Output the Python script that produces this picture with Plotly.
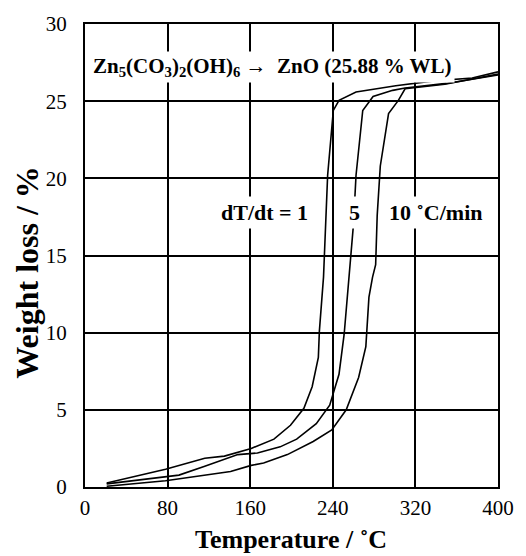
import plotly.graph_objects as go

# Thermogravimetric curves of basic zinc carbonate at three heating rates
temp_1 = [21, 55, 78, 116, 135, 161, 183, 199, 212, 220, 226, 227, 231, 235, 240.5, 246, 262.5, 301, 336, 375, 400]
wl_1 = [0.26, 0.77, 1.15, 1.86, 2.0, 2.5, 3.1, 4.0, 5.1, 6.5, 8.4, 10.1, 13.6, 20.2, 24.4, 25.05, 25.6, 26.0, 26.3, 26.5, 26.9]

temp_5 = [21, 91, 116, 148, 167, 189, 205, 224, 237, 246, 251, 256, 260, 262.5, 269, 279, 298, 310, 330, 350, 400]
wl_5 = [0.2, 0.77, 1.35, 2.1, 2.2, 2.6, 3.1, 4.1, 5.3, 7.3, 9.9, 13.6, 17.0, 20.2, 24.4, 25.3, 25.7, 25.85, 26.0, 26.15, 26.7]

temp_10 = [21, 78, 141, 161, 173, 196, 221, 239, 253, 265, 272, 275, 278.5, 281.5, 283, 286, 294, 303.5, 310, 348.5, 400]
wl_10 = [0.05, 0.4, 1.0, 1.4, 1.55, 2.1, 2.95, 3.7, 5.0, 7.1, 9.1, 12.3, 13.6, 14.4, 17.6, 20.8, 24.2, 25.05, 25.8, 26.1, 26.75]

x_ticks = [0, 80, 160, 240, 320, 400]
y_ticks = [0, 5, 10, 15, 20, 25, 30]

FONT = "Times New Roman, Liberation Serif, serif"

fig = go.Figure()
for tx, wy in [(temp_1, wl_1), (temp_5, wl_5), (temp_10, wl_10)]:
    fig.add_trace(go.Scatter(x=tx, y=wy, mode="lines",
                             line=dict(color="black", width=1.6),
                             showlegend=False, hoverinfo="skip"))

# reaction label and heating-rate labels (white boxes interrupt the grid)
fig.add_annotation(x=182, y=27.2, xref="x", yref="y",
                   text="<b>Zn<sub>5</sub>(CO<sub>3</sub>)<sub>2</sub>(OH)<sub>6</sub> \u2192  ZnO (25.88 % WL)</b>",
                   showarrow=False, bgcolor="white",
                   font=dict(family=FONT, size=21, color="black"), borderpad=2)
rate_font = dict(family=FONT, size=22, color="black")
fig.add_annotation(x=174, y=17.8, text="<b>dT/dt = 1</b>", showarrow=False,
                   bgcolor="white", font=rate_font, borderpad=3)
fig.add_annotation(x=261, y=17.8, text="<b>5</b>", showarrow=False,
                   bgcolor="white", font=rate_font, borderpad=3)
fig.add_annotation(x=340, y=17.8, text="<b>10 \u02daC/min</b>", showarrow=False,
                   bgcolor="white", font=rate_font, borderpad=3)

# axis titles
fig.add_annotation(xref="paper", yref="paper", x=0.4988, y=-0.113,
                   xanchor="center", yanchor="middle", showarrow=False,
                   text="<b>Temperature / \u02daC</b>", borderpad=0,
                   font=dict(family=FONT, size=26, color="black"))
fig.add_annotation(xref="paper", yref="paper", x=-0.141, y=0.4625,
                   xanchor="center", yanchor="middle", showarrow=False, textangle=-90,
                   text="<b>Weight loss / %</b>",
                   font=dict(family=FONT, size=32, color="black"))

axis_common = dict(showgrid=True, gridcolor="black", gridwidth=2,
                   showline=True, linecolor="black", linewidth=2, mirror=True,
                   zeroline=False, ticks="", tickfont=dict(family=FONT, size=21, color="black"))

fig.update_xaxes(range=[0, 400], tickvals=x_ticks, ticktext=[str(v) for v in x_ticks],
                 ticklabelstandoff=1, **axis_common)
fig.update_yaxes(range=[0, 30], tickvals=y_ticks, ticktext=[str(v) for v in y_ticks],
                 ticklabelstandoff=12, **axis_common)

fig.update_layout(width=526, height=556, margin=dict(l=85, r=22, t=19, b=69),
                  plot_bgcolor="white", paper_bgcolor="white")

fig.write_html("out.html")
